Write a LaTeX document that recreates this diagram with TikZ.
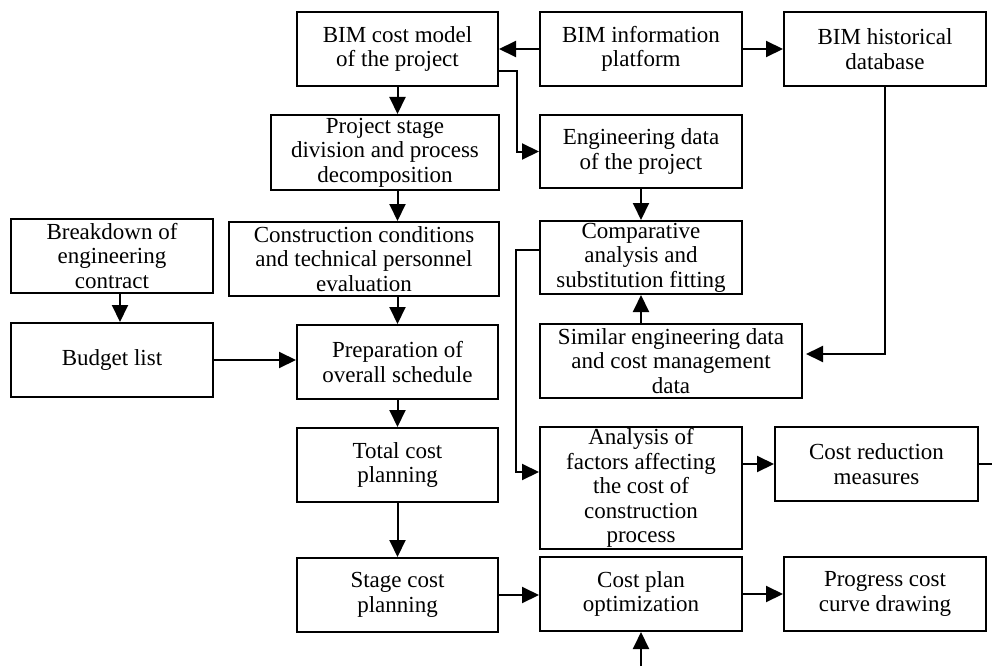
\documentclass[tikz,border=0pt]{standalone}
\usepackage{fontspec}
\setmainfont{Liberation Serif}
\usetikzlibrary{arrows.meta,calc}
\begin{document}
\begin{tikzpicture}[x=1pt,y=-1pt,
  box/.style={draw,line width=2pt,inner sep=0pt,align=center,
    font=\fontsize{23}{24.5}\selectfont},
  arr/.style={line width=2pt,-{Triangle[length=17pt,width=16pt]}},
  ln/.style={line width=2pt}]
\useasboundingbox (0,0) rectangle (992,666);
\newcommand{\bx}[6]{\node[box,minimum width={#4-#2},minimum height={#5-#3}] (#1) at ({(#2+#4)/2},{(#3+#5)/2}) {#6};}
\bx{cm}{297}{12}{498}{86}{BIM cost model\\of the project}
\bx{plat}{540}{12}{742}{86}{BIM information\\platform}
\bx{hist}{784}{12}{986}{86}{BIM historical\\database}
\bx{psd}{271}{115}{499}{190}{Project stage\\division and process\\decomposition}
\bx{eng}{540}{115}{742}{188}{Engineering data\\of the project}
\bx{bd}{11}{219}{213}{293}{Breakdown of\\engineering\\contract}
\bx{cc}{229}{222}{499}{296}{Construction conditions\\and technical personnel\\evaluation}
\bx{comp}{540}{221}{742}{294}{Comparative\\analysis and\\substitution fitting}
\bx{bl}{11}{323}{213}{397}{Budget list}
\bx{prep}{297}{325}{498}{399}{Preparation of\\overall schedule}
\bx{sim}{540}{324}{802}{398}{Similar engineering data\\and cost management\\data}
\bx{tot}{297}{428}{498}{502}{Total cost\\planning}
\bx{ana}{540}{427}{742}{549}{Analysis of\\factors affecting\\the cost of\\construction\\process}
\bx{cr}{775}{427}{978}{501}{Cost reduction\\measures}
\bx{stg}{297}{558}{498}{632}{Stage cost\\planning}
\bx{opt}{540}{557}{742}{631}{Cost plan\\optimization}
\bx{prog}{784}{557}{986}{631}{Progress cost\\curve drawing}
\coordinate (edge) at (992,0);
\coordinate (bot) at (0,666);
% connectors
\draw[arr] (plat.west) -- (cm.east);
\draw[arr] (plat.east) -- (hist.west);
\draw[arr] (cm.south) -- (cm.south |- psd.north);
\draw[arr] ([yshift=-22pt]cm.east) -- ++(18,0) |- (eng.west);
\draw[arr] (psd.south -| cm.south) -- (cc.north -| cm.south);
\draw[arr] (cc.south -| prep.north) -- (prep.north);
\draw[arr] ([xshift=8pt]bd.south) -- ([xshift=8pt]bl.north);
\draw[arr] (bl.east) -- (bl.east -| prep.west);
\draw[arr] (prep.south) -- (tot.north);
\draw[arr] (tot.south) -- (stg.north);
\draw[arr] (stg.east) -- (stg.east -| opt.west);
\draw[arr] (opt.east) -- (opt.east -| prog.west);
\draw[arr] (eng.south) -- (comp.north);
\draw[arr] (sim.north -| comp.south) -- (comp.south);
\draw[arr,shorten >=3pt] (hist.south) |- ([yshift=7pt]sim.east);
\draw[arr] ([yshift=8pt]comp.west) -- ++(-23,0) |- ([yshift=16pt]ana.west);
\draw[arr] (cr.west -| ana.east) -- (cr.west);
\draw[ln] (cr.east) -- (cr.east -| edge);
\draw[arr] (opt.south |- bot) -- (opt.south);
\end{tikzpicture}
\end{document}
